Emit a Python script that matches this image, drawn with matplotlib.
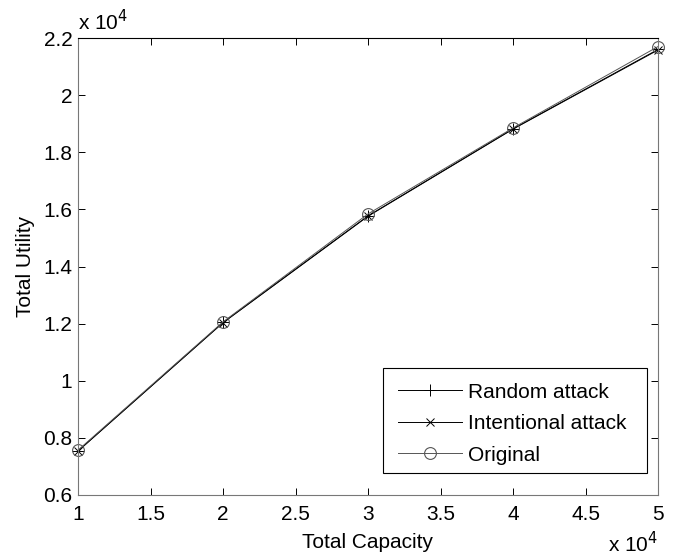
import matplotlib
matplotlib.use('Agg')
import matplotlib.pyplot as plt
from matplotlib.patches import Rectangle
from matplotlib.ticker import FuncFormatter

plt.rcParams['font.family'] = ['Liberation Sans', 'DejaVu Sans']

# data (raw units, shown on axes in units of 1e4)
capacity = [10000, 20000, 30000, 40000, 50000]
random_attack = [7540, 12040, 15770, 18820, 21600]
intentional_attack = [7540, 12030, 15760, 18810, 21580]
original = [7570, 12060, 15840, 18850, 21700]

W, H = 674, 557
fig = plt.figure(figsize=(W / 100, H / 100), dpi=100)
ax = fig.add_axes([78 / W, 1 - 495 / H, 580 / W, 457 / H])

ax.plot(capacity, random_attack, color='black', lw=0.7, marker='+', ms=9,
        mew=0.7, label='Random attack', clip_on=False)
ax.plot(capacity, intentional_attack, color='black', lw=0.7, marker='x', ms=6,
        mew=0.7, label='Intentional attack', clip_on=False)
ax.plot(capacity, original, color='#555555', lw=0.7, marker='o', ms=8.5,
        mfc='none', mew=0.8, label='Original', clip_on=False)

ax.set_xlim(10000, 50000)
ax.set_ylim(6000, 22000)
ax.set_xticks([10000 + 5000 * i for i in range(9)])
ax.set_yticks([6000 + 2000 * i for i in range(9)])

def fmt(v, pos):
    return '%g' % (v / 1e4)

ax.xaxis.set_major_formatter(FuncFormatter(fmt))
ax.yaxis.set_major_formatter(FuncFormatter(fmt))
ax.tick_params(direction='in', length=5, width=0.7, labelsize=15,
               top=True, right=True, pad=4)
ax.tick_params(axis='x', pad=7)

for side in ['left', 'right', 'bottom']:
    ax.spines[side].set_color('#777777')
ax.spines['top'].set_color('black')
for s in ax.spines.values():
    s.set_linewidth(0.8)

ax.set_xlabel('Total Capacity', fontsize=15, labelpad=7)
ax.set_ylabel('Total Utility', fontsize=15, labelpad=6)

# exponent labels, MATLAB style
fig.text(78 / W, 1 - 30 / H, 'x 10$^4$', fontsize=15, ha='left', va='baseline')
fig.text(658 / W, 1 - 552 / H, 'x 10$^4$', fontsize=15, ha='right', va='baseline')

# legend without its own frame, boxed by hand to get MATLAB's wider box
leg = ax.legend(loc='upper left', bbox_to_anchor=(383 / W, 1 - 368 / H),
                bbox_transform=fig.transFigure, fontsize=15, frameon=False,
                handlelength=3.1, borderpad=0.7, labelspacing=0.6,
                handletextpad=0.3, borderaxespad=0)
leg.set_zorder(6)
box = Rectangle((383 / W, 1 - 473 / H), (647 - 383) / W, (473 - 368) / H,
                transform=fig.transFigure, facecolor='white',
                edgecolor='black', lw=0.8, zorder=5, clip_on=False)
ax.add_patch(box)

fig.savefig('out.png', dpi=100)
